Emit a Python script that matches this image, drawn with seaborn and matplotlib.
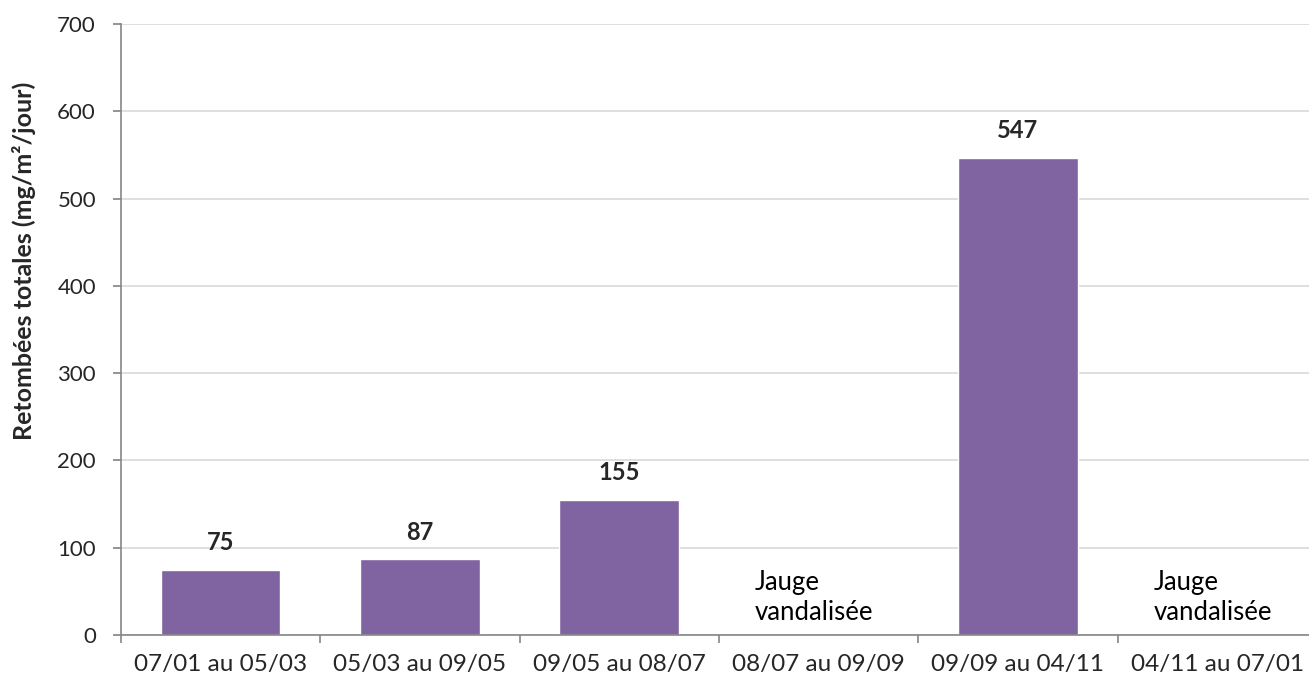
import numpy as np
import seaborn as sns
import pandas as pd
import matplotlib.pyplot as plt
from matplotlib.ticker import FixedLocator

periods = ['07/01 au 05/03', '05/03 au 09/05', '09/05 au 08/07',
           '08/07 au 09/09', '09/09 au 04/11', '04/11 au 07/01']
retombees = [75, 87, 155, np.nan, 547, np.nan]
note = 'Jauge\nvandalisée'

sns.set_theme(style='white')
plt.rcParams['font.family'] = ['Lato', 'DejaVu Sans']

df = pd.DataFrame({'Période': periods, 'Retombées': retombees})

fig = plt.figure(figsize=(13.09, 6.84), dpi=100)
ax = fig.add_axes([0.0924, 0.0716, 0.9137, 0.8933])

sns.barplot(data=df, x='Période', y='Retombées', order=periods,
            color='#8064A2', saturation=1, width=0.6, errorbar=None, ax=ax)

ax.set_ylim(0, 700)
ax.set_xlim(-0.5, len(periods) - 0.5)
ax.set_yticks(range(0, 701, 100))
ax.yaxis.grid(True, color='#d9d9d9', linewidth=1.2)
ax.set_axisbelow(True)

for s in ['top', 'right']:
    ax.spines[s].set_visible(False)
for s in ['left', 'bottom']:
    ax.spines[s].set_color('#868686')
    ax.spines[s].set_linewidth(1.2)

ax.tick_params(axis='y', left=True, length=6, color='#868686', labelsize=16, pad=12)
ax.tick_params(axis='x', bottom=False, labelsize=17.5, pad=8)
ax.xaxis.set_minor_locator(FixedLocator(np.arange(-0.5, len(periods), 1.0)))
ax.tick_params(axis='x', which='minor', bottom=True, length=6, color='#868686', width=1.2)

ax.set_xlabel('')
ax.set_ylabel('Retombées totales (mg/m²/jour)', fontsize=18, fontweight='bold')
ax.yaxis.set_label_coords(-0.071, 0.612)

for i, v in enumerate(retombees):
    if np.isnan(v):
        ax.text(i - 0.32, 12, note, ha='left', va='bottom', fontsize=18.5,
                linespacing=1.25, color='black')
    else:
        ax.annotate(f'{v:.0f}', (i, v), xytext=(0, 11), textcoords='offset points',
                    ha='center', va='bottom', fontsize=17, fontweight='bold')

fig.savefig('out.png', dpi=100)
